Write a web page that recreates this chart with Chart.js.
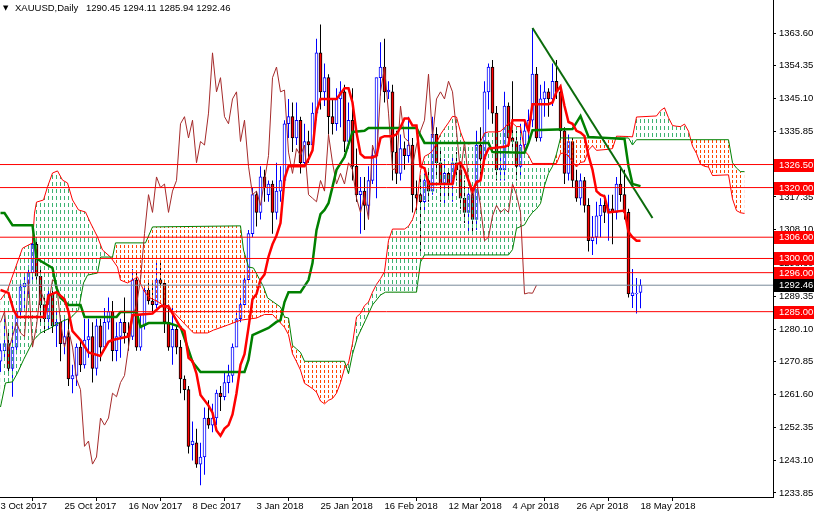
<!DOCTYPE html>
<html>
<head>
<meta charset="utf-8">
<script src="https://cdn.jsdelivr.net/npm/chart.js@4.4.0/dist/chart.umd.min.js"></script>
<style>
  html, body { margin: 0; padding: 0; background: #fff; }
  #wrap { width: 814px; height: 514px; }
</style>
</head>
<body>
<div id="wrap"><canvas id="chart" width="814" height="514"></canvas></div>
<script>
// XAUUSD daily, 3 Oct 2017 .. 18 May 2018 (bar index 0..160)
var symbolName = 'XAUUSD,Daily';
var dateLabels = ['3 Oct 2017', '25 Oct 2017', '16 Nov 2017', '8 Dec 2017', '3 Jan 2018', '25 Jan 2018',
  '16 Feb 2018', '12 Mar 2018', '4 Apr 2018', '26 Apr 2018', '18 May 2018'];
var barsPerLabel = 16;
var priceTicks = [1363.60, 1354.35, 1345.10, 1335.85, 1326.60, 1317.35, 1308.10, 1298.60,
  1289.35, 1280.10, 1270.85, 1261.60, 1252.35, 1243.10, 1233.85];

var opens = [1271,1274,1276,1269,1275,1285,1292,1293,1296,1304,
  1295,1287,1283,1290,1281,1282,1276,1278,1266,1267,
  1275,1270,1277,1278,1269,1281,1275,1282,1285,1274,
  1278,1282,1279,1278,1294,1275,1281,1291,1288,1287,
  1294,1293,1282,1275,1280,1275,1266,1263,1247.5,1248,
  1242,1244,1255,1253,1255,1262,1261,1265,1267,1275,
  1283,1287,1294,1307,1318,1313,1323,1318,1321,1313,
  1319,1322,1338,1340,1334,1339,1327,1333,1332,1341,
  1358,1347,1351,1340,1338,1345,1347,1333,1339,1326,
  1318,1319,1315,1322,1329,1351,1354,1347,1347,1330,
  1324,1331,1329,1332,1318,1318,1316,1322,1319,1335,
  1327,1321,1324,1321,1327,1325,1317,1313,1318,1311,
  1332,1328,1347,1354,1341,1325,1325,1343,1334,1333,
  1326,1332,1336,1339,1352,1334,1345,1347,1345,1350,
  1347,1336,1324,1333,1322,1317,1322,1315,1305,1306,
  1312,1315,1313,1314,1313,1321,1318,1313,1289.5,1290,
  1290.45];
var highs = [1276,1283,1279,1281,1286,1294,1295,1298,1306,1306,
  1297,1289,1292,1291,1285,1283,1283,1283,1270,1276,
  1277,1283,1283,1282,1283,1283,1286,1289,1288,1282,
  1283,1289,1282,1297,1296,1284,1292,1294,1293,1299,
  1299,1294,1287,1286,1281,1277,1267,1264,1254,1252,
  1248,1258,1260,1259,1263,1264,1268,1270,1276,1285,
  1289,1295,1308,1320,1319,1326,1325,1322,1322,1327,
  1326,1339,1345,1344,1344,1340,1338,1336,1344,1362,
  1366,1355,1352,1345,1348,1350,1349,1344,1348,1331,
  1323,1323,1326,1331,1351,1361,1362,1350,1349,1336,
  1335,1333,1340,1334,1322,1323,1324,1325,1340,1337,
  1331,1328,1325,1329,1330,1327,1322,1320,1319,1336,
  1337,1350,1355,1356,1343,1330,1347,1344,1350,1336,
  1338,1339,1342,1365,1354,1349,1350,1348,1355,1356,
  1349,1337,1335,1334,1325,1324,1323,1317,1312,1316,
  1317,1318,1318,1318,1323,1326,1325,1314,1297,1294.5,
  1294.11];
var lows = [1268,1272,1267,1261,1273,1283,1286,1289,1294,1294,
  1281,1279,1280,1279,1275,1271,1273,1264,1262,1264,
  1268,1269,1272,1265,1267,1271,1274,1280,1271,1271,
  1272,1276,1274,1277,1274,1274,1280,1287,1285,1286,
  1292,1279,1274,1270,1273,1262,1260,1245,1243,1241,
  1236,1239,1252,1251,1253,1257,1260,1262,1265,1275,
  1282,1286,1293,1306,1309,1311,1316,1316,1307,1311,
  1316,1321,1334,1330,1332,1324,1326,1327,1330,1339,
  1342,1343,1335,1335,1336,1337,1330,1331,1322,1316,
  1307,1308,1312,1321,1317,1346,1344,1345,1322,1321,
  1322,1325,1327,1313,1313,1302,1313,1316,1318,1323,
  1316,1315,1317,1316,1322,1314,1310,1307,1307,1308,
  1323,1327,1342,1338,1322,1322,1322,1330,1331,1322,
  1323,1329,1332,1337,1333,1333,1340,1340,1343,1345,
  1333,1321,1322,1320,1316,1315,1313,1302,1301,1304,
  1306,1310,1305,1304,1311,1316,1311,1289,1286,1284.5,
  1285.94];
var closes = [1274,1276,1269,1275,1285,1292,1293,1296,1304,1295,
  1287,1283,1290,1281,1282,1276,1278,1266,1267,1275,
  1270,1277,1278,1269,1281,1275,1282,1285,1274,1278,
  1282,1279,1278,1294,1275,1281,1291,1288,1287,1294,
  1293,1282,1275,1280,1275,1266,1263,1247,1248.5,1242,
  1244,1255,1253,1255,1262,1261,1265,1267,1275,1283,
  1287,1294,1307,1318,1313,1323,1320,1321,1313,1319,
  1322,1338,1340,1334,1339,1327,1333,1332,1341,1358,
  1347,1351,1340,1338,1345,1347,1333,1339,1326,1318,
  1319,1315,1322,1329,1351,1354,1347,1347.5,1330,1324,
  1331,1329,1332,1318,1317,1316,1322,1319,1335,1327,
  1321,1324,1321,1327,1325,1317,1313,1318,1311,1332,
  1328,1347,1354,1341,1325,1325.5,1343,1334,1333,1326,
  1332,1336,1339,1352,1334,1345,1347,1345,1350,1347,
  1336,1324,1333,1322,1317,1322,1315,1305,1306,1312,
  1315,1313,1314,1313,1321,1318,1313,1290,1290.3,1290.2,
  1292.46];

// Ichimoku lines: [bar, price]
var tenkan = [[0,1291.1],[2,1290.3],[3.25,1285.5],[4.25,1283.5],[11,1283.5],[12,1289.5],[14,1290.5],[16,1288.5],
  [17,1285],[18,1279.5],[20,1277],[22,1273.5],[25,1272.5],[27,1276.5],[28,1277],[32,1278],[33,1284],[38,1284.5],
  [40,1286.5],[42,1286.5],[43,1284.5],[45,1280.5],[46,1279.5],[47,1272],[48,1271],[49,1267.5],[50,1261.5],
  [52,1258.5],[53,1256.5],[54,1251.5],[55,1250],[56,1252],[57,1253],[58,1256],[59,1262],[60,1270],[61,1273],
  [62,1280.5],[63,1288.5],[64,1290],[65,1294],[66,1295.5],[67,1300.5],[68,1304],[69,1306.5],[70,1310],
  [71,1322.5],[72,1326],[76,1326],[77,1328],[78,1330.5],[79,1341.5],[80,1345],[84,1345],[85,1346.5],[86,1348],
  [87,1348],[88,1344],[89,1335.5],[90,1329.5],[91,1328.5],[93,1328.5],[94,1329],[95,1334],[96,1334.5],
  [98,1334.5],[99,1335],[100,1337],[101,1339.5],[102,1339.5],[103,1337.5],[104,1337.5],[105,1326],[106,1325.5],
  [107,1321],[113,1321],[114,1326.5],[115,1327],[116,1325],[117,1322],[118,1319],[119,1321.5],[120,1322],
  [121,1328.5],[122,1331],[126,1331.5],[127,1332],[128,1339],[131,1339],[132,1336],[133,1343.5],[137,1343.5],
  [138,1344],[139,1347],[140,1348.5],[141,1343],[142,1338.5],[143,1338],[144,1336],[145,1335.5],[146,1334.5],
  [147,1329],[148,1325],[149,1319],[150,1318],[151,1317.5],[152,1313],[156,1313.5],[157,1307.5],[158,1306],
  [159,1305],[160,1305]];
var kijun = [[0,1312.8],[1,1312.8],[3,1309.4],[8,1309.4],[9,1300],[13,1297.3],[14,1291.7],[15,1288.9],
  [17,1286.9],[20,1286.9],[21,1283.5],[29,1283.5],[30,1284.9],[34,1284.9],[35,1280.7],[37,1281.8],[42,1281.8],
  [45,1280.7],[47,1274.2],[48,1270.8],[50,1268],[61,1268],[62,1271.4],[63,1278.4],[67,1280.4],[69,1282.1],
  [70,1282.6],[71,1287.7],[72,1290.5],[75,1290.5],[77,1293.9],[78,1298.7],[79,1308],[80,1312.5],[81,1313.7],
  [82,1315.6],[83,1320.2],[84,1325],[86,1328.6],[88,1335.7],[91,1336],[92,1336.8],[104,1336.8],[106,1332.6],
  [122,1332.6],[123,1330],[131,1329.8],[132,1332.6],[133,1336.2],[143,1336.5],[145,1340.2],[147,1334.3],
  [156,1333.7],[157,1326],[158,1321],[160,1320.4]];
var spanA = [[0,1288.3],[1.75,1291.1],[4.25,1299],[5.5,1302.9],[8,1304.4],[8.5,1312.8],[9,1315.9],[10.75,1316.5],
  [11.75,1320.2],[13,1324.1],[14.25,1324.7],[15.5,1322.1],[16.75,1321.3],[18,1316.5],[19.5,1313.7],[21.25,1313.1],
  [22.5,1310],[24.25,1306.1],[25.5,1302.4],[27.5,1300.4],[29.25,1297.6],[30,1293.9],[31.75,1293.1],[33,1293.9],
  [34.25,1294.8],[35.75,1291.1],[37,1289.1],[39.5,1287.7],[41.25,1286.3],[43.25,1284.9],[46.75,1280.7],
  [48.25,1279],[51.75,1279],[53.25,1279.8],[56.75,1281.2],[60,1282.6],[62,1282.9],[64,1283.2],[66,1284.2],
  [68,1284.2],[69,1283],[71,1280.6],[72,1278.5],[73,1273.1],[74,1270.9],[75,1268.5],[76,1264.8],[78,1263.3],
  [79,1262.3],[80,1259.8],[81,1259],[82,1260],[83,1260.5],[84,1262],[85,1265],[86,1269],[87,1270.5],[88,1276],
  [89,1283.5],[90,1284.5],[91,1286.7],[92,1287.7],[93,1290.5],[94,1292.7],[95,1294.3],[96,1296.3],[97,1305.1],
  [98,1308.3],[101,1308.3],[102,1309.1],[103,1311],[104,1314.6],[105,1324.8],[106,1328.8],[107,1329.4],
  [108,1330.3],[109,1332.6],[110,1335],[111,1336.7],[112,1338.3],[113,1340.1],[114,1339.9],[115,1335.7],
  [116,1332.7],[117,1332.3],[119,1332.7],[120,1332.9],[121,1335.4],[122,1335.7],[124,1335.7],[125,1335.9],
  [126,1336.9],[127,1338.2],[128,1338.2],[129,1337.2],[130,1337.2],[131,1330.4],[132,1329.1],[133,1326.8],
  [139,1326.8],[140,1329.6],[141,1329.8],[142,1328.8],[143,1327.3],[144,1325.8],[145,1327.1],[146,1327.3],
  [147,1330.6],[148,1331.8],[149,1330.5],[152,1330.8],[153,1331],[154,1334.5],[157,1334.4],[158,1334.3],
  [159,1339.9],[164,1340.2],[165,1341.7],[166,1342.5],[167,1339.7],[168,1337.5],[169,1337.3],[170,1337.2],
  [171,1337.9],[172,1335.9],[173,1331.7],[174,1329.6],[175,1326.6],[176,1326],[177,1325.8],[178,1323.4],
  [182,1323.6],[183,1316.8],[184,1313.5],[185,1312.9],[186,1312.7]];
var spanB = [[0,1258.1],[1.25,1264.9],[3,1265.2],[4.25,1267.7],[5.75,1271.4],[8.25,1277],[10,1279],[12.5,1280.4],
  [15,1282.1],[17.5,1283.2],[19.5,1285.5],[20.75,1293.1],[21.75,1295.3],[24.25,1295.9],[25,1300.4],[28,1300.4],
  [28.75,1304.4],[36.25,1304.4],[38,1308.9],[60,1309.2],[60.75,1302.4],[62,1297.6],[63.25,1297.3],[65.75,1292],
  [66.75,1288.9],[70,1286.3],[71,1283.5],[72,1283.2],[73,1275.5],[74,1274.5],[75,1273.5],[76,1271],[86,1271],
  [87,1267.5],[88,1273],[89.25,1277.8],[91.25,1282.6],[93,1286.9],[95,1289.7],[96.25,1290.5],[104,1290.5],
  [105,1299],[106,1301],[127,1301],[128,1302.5],[129,1308.5],[131,1309.5],[132,1311.5],[133,1313],[134,1314],
  [135,1315.5],[136,1320.5],[137,1324],[138,1326],[139,1329.5],[140,1334],[157,1334],[158,1332],[159,1333.5],
  [182,1333.5],[183,1327],[184,1325.5],[185,1324.5],[186,1324.5]];
var chikouShift = 26;

var levels = [1326.50, 1320.00, 1306.00, 1300.00, 1296.00, 1285.00];
var trendLine = [[133, 1365], [163, 1311.4]];

var xMin = -0.125, xMax = 193.125;
var yMin = 1232.72, yMax = 1372.91;

var canvas = document.getElementById('chart');
var ctx = canvas.getContext('2d');

function hatch(color, dash, period) {
  var c = document.createElement('canvas');
  c.width = 4; c.height = period;
  var g = c.getContext('2d');
  g.fillStyle = color;
  g.fillRect(0, 0, 1, dash);
  return ctx.createPattern(c, 'repeat');
}
var greenHatch = hatch('#3CB371', 4, 7);
var orangeHatch = hatch('#FF4500', 3, 5);

var pts = function (arr) { return arr.map(function (p) { return { x: p[0], y: p[1] }; }); };
var bull = closes.map(function (c, i) { return c >= opens[i]; });

var bodyData = opens.map(function (o, i) { return { x: i, y: [o, closes[i]] }; });
var wickData = highs.map(function (h, i) { return { x: i, y: [lows[i], h] }; });
var chikouData = closes.slice(chikouShift).map(function (c, i) { return { x: i, y: c }; });

var lineDefaults = { type: 'line', pointRadius: 0, pointHoverRadius: 0, tension: 0, fill: false };

var datasets = [
  { type: 'bar', data: wickData, barThickness: 1, grouped: false, inflateAmount: 0, borderWidth: 0,
    backgroundColor: bull.map(function (b) { return b ? '#0000FF' : '#000000'; }), order: 21 },
  { type: 'bar', data: bodyData, barThickness: 3, grouped: false, borderSkipped: false, borderWidth: 1,
    backgroundColor: bull.map(function (b) { return b ? '#FFFFFF' : '#FF0000'; }),
    borderColor: bull.map(function (b) { return b ? '#0000FF' : '#000000'; }), order: 20 },
  Object.assign({}, lineDefaults, { data: pts(spanA), borderColor: '#FF0000', borderWidth: 1,
    fill: { target: '+1', above: greenHatch, below: orangeHatch }, order: 15 }),
  Object.assign({}, lineDefaults, { data: pts(spanB), borderColor: '#008000', borderWidth: 1, order: 14 }),
  Object.assign({}, lineDefaults, { data: chikouData, borderColor: '#A52A2A', borderWidth: 1, order: 13 }),
  Object.assign({}, lineDefaults, { data: pts(kijun), borderColor: '#008000', borderWidth: 2.5, order: 12 }),
  Object.assign({}, lineDefaults, { data: pts(tenkan), borderColor: '#FF0000', borderWidth: 2.5, order: 11 }),
  Object.assign({}, lineDefaults, { data: pts(trendLine), borderColor: '#0B6B0B', borderWidth: 2, order: 6 })
];
levels.forEach(function (v) {
  datasets.push(Object.assign({}, lineDefaults, { data: [{ x: xMin, y: v }, { x: xMax, y: v }],
    borderColor: '#FF0000', borderWidth: 1, order: 5 }));
});
datasets.push(Object.assign({}, lineDefaults, {
  data: [{ x: xMin, y: closes[closes.length - 1] }, { x: xMax, y: closes[closes.length - 1] }],
  borderColor: '#778899', borderWidth: 1, order: 4 }));

var labelBoxes = {
  id: 'labelBoxes',
  afterDraw: function (chart) {
    var c = chart.ctx, ys = chart.scales.y, area = chart.chartArea;
    c.save();
    c.font = '9.5px "Liberation Sans"';
    c.textBaseline = 'middle';
    var box = function (v, bg) {
      var py = Math.round(ys.getPixelForValue(v));
      c.fillStyle = bg;
      c.fillRect(area.right + 1, py - 6, chart.width - area.right - 1, 13);
      c.fillStyle = '#FFFFFF';
      c.fillText(v.toFixed(2), area.right + 6, py + 0.5);
    };
    levels.forEach(function (v) { box(v, '#FF0000'); });
    box(closes[closes.length - 1], '#000000');
    var n = closes.length - 1;
    c.fillStyle = '#000000';
    c.font = '7px "DejaVu Sans"';
    c.fillText('\u25BC', 3, 8);
    c.font = '9.5px "Liberation Sans"';
    c.fillText(symbolName, 15, 8.5);
    c.fillText([opens[n], highs[n], lows[n], closes[n]].map(function (v) { return v.toFixed(2); }).join(' '), 86, 8.5);
    c.restore();
  }
};

new Chart(ctx, {
  type: 'bar',
  data: { datasets: datasets },
  options: {
    responsive: false,
    devicePixelRatio: 1,
    animation: false,
    layout: { padding: 0 },
    plugins: { legend: { display: false }, tooltip: { enabled: false } },
    scales: {
      x: {
        type: 'linear', min: xMin, max: xMax, offset: false,
        grid: { display: true, drawOnChartArea: false, drawTicks: true, tickLength: 4, color: '#000000' },
        border: { display: true, color: '#000000', width: 1 },
        afterBuildTicks: function (scale) {
          scale.ticks = dateLabels.map(function (d, i) { return { value: i * barsPerLabel }; });
        },
        afterFit: function (scale) { scale.height = 17; scale.paddingLeft = 0; scale.paddingRight = 0; },
        ticks: {
          autoSkip: false, maxRotation: 0, align: 'start', padding: 0, color: '#000000',
          font: { family: 'Liberation Sans', size: 9.5 },
          callback: function (v) { return dateLabels[Math.round(v / barsPerLabel)] || ''; }
        }
      },
      y: {
        type: 'linear', position: 'right', min: yMin, max: yMax,
        grid: { display: true, drawOnChartArea: false, drawTicks: true, tickLength: 3, color: '#000000' },
        border: { display: true, color: '#000000', width: 1 },
        afterBuildTicks: function (scale) {
          scale.ticks = priceTicks.map(function (v) { return { value: v }; });
        },
        afterFit: function (scale) { scale.width = 41; scale.paddingTop = 0; scale.paddingBottom = 0; },
        ticks: {
          padding: 3, color: '#000000', font: { family: 'Liberation Sans', size: 9.5 },
          callback: function (v) { return v.toFixed(2); }
        }
      }
    }
  },
  plugins: [labelBoxes]
});
</script>
</body>
</html>
